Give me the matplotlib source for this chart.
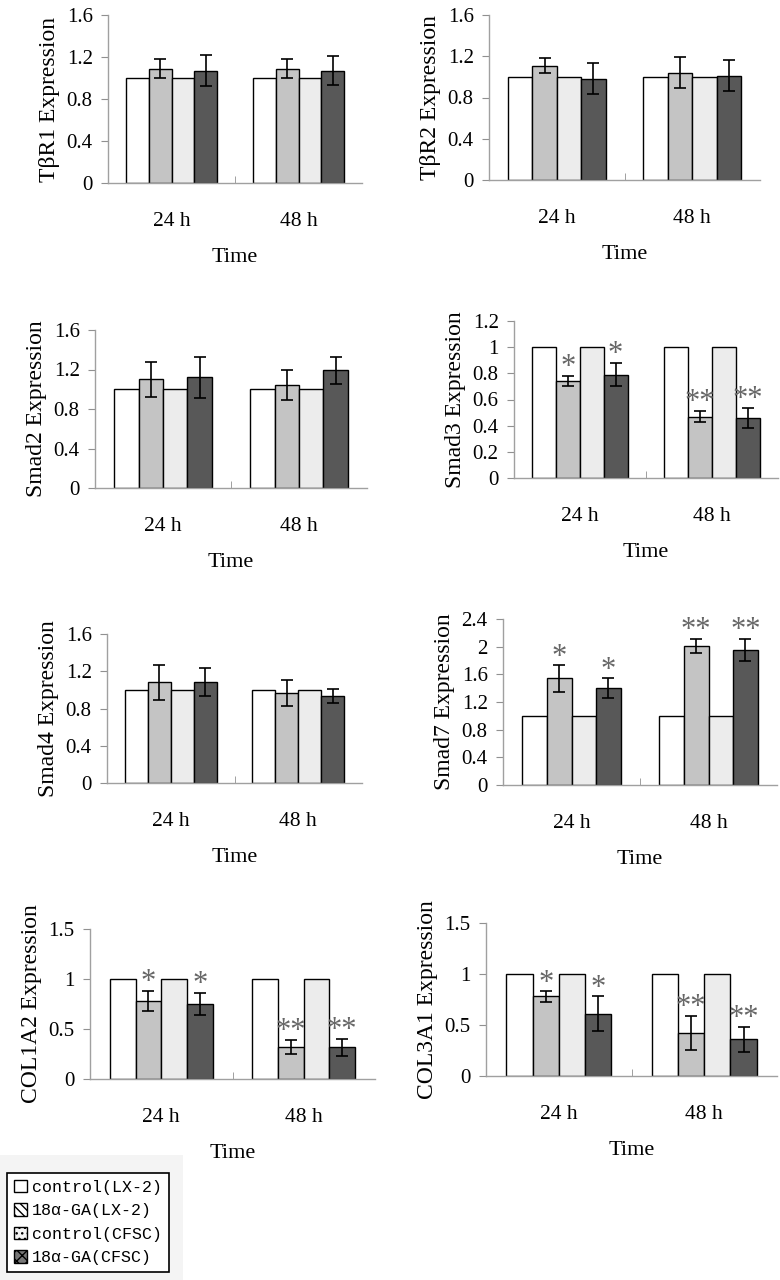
import matplotlib
matplotlib.use("Agg")
import matplotlib.pyplot as plt
from matplotlib.patches import Patch, Rectangle
import numpy as np

plt.rcParams['font.family'] = ['Liberation Serif', 'DejaVu Serif']

# ---- data ----
genes = ['TβR1', 'TβR2', 'Smad2', 'Smad3', 'Smad4', 'Smad7', 'COL1A2', 'COL3A1']
times = ['24 h', '48 h']
ymax = [1.6, 1.6, 1.6, 1.2, 1.6, 2.4, 1.5, 1.5]
ystep = [0.4, 0.4, 0.4, 0.2, 0.4, 0.4, 0.5, 0.5]

ctrl_lx_24 = [1.0, 1.0, 1.0, 1.0, 1.0, 1.0, 1.0, 1.0]
ctrl_lx_48 = [1.0, 1.0, 1.0, 1.0, 1.0, 1.0, 1.0, 1.0]
ga_lx_24 = [1.09, 1.11, 1.10, 0.74, 1.08, 1.54, 0.78, 0.78]
ga_lx_48 = [1.09, 1.04, 1.04, 0.47, 0.97, 2.01, 0.32, 0.42]
ga_lx_err_24 = [0.09, 0.07, 0.18, 0.04, 0.19, 0.19, 0.10, 0.05]
ga_lx_err_48 = [0.09, 0.15, 0.15, 0.045, 0.14, 0.10, 0.07, 0.165]
ctrl_cfsc_24 = [1.0, 1.0, 1.0, 1.0, 1.0, 1.0, 1.0, 1.0]
ctrl_cfsc_48 = [1.0, 1.0, 1.0, 1.0, 1.0, 1.0, 1.0, 1.0]
ga_cfsc_24 = [1.07, 0.98, 1.12, 0.79, 1.08, 1.40, 0.75, 0.61]
ga_cfsc_48 = [1.07, 1.01, 1.19, 0.46, 0.93, 1.95, 0.32, 0.36]
ga_cfsc_err_24 = [0.145, 0.15, 0.21, 0.09, 0.15, 0.14, 0.11, 0.17]
ga_cfsc_err_48 = [0.14, 0.15, 0.14, 0.075, 0.075, 0.16, 0.085, 0.12]
sig_24 = ['', '', '', '*', '', '*', '*', '*']
sig_48 = ['', '', '', '**', '', '**', '**', '**']

legend_labels = ['control(LX-2)', '18α-GA(LX-2)', 'control(CFSC)', '18α-GA(CFSC)']
colors = ['white', '#c4c4c4', '#ececec', '#585858']

# axes boxes in pixels: left, top, right, bottom
boxes = [(108, 15, 362, 183), (489, 15, 760, 180),
         (95, 330, 367, 488), (514, 321, 778, 478),
         (107, 634, 362, 783), (503, 619, 777, 785),
         (90, 929, 375, 1079), (486, 923, 777, 1076)]

W, H = 780, 1280
fig = plt.figure(figsize=(W / 100, H / 100), dpi=100)

# light gray patch behind the legend
fig.patches.append(Rectangle((0, 0), 183 / W, 125 / H, transform=fig.transFigure,
                             facecolor='#f4f4f4', edgecolor='none', zorder=0))

w = 0.18
x = np.arange(2)
for i, g in enumerate(genes):
    l, t, r, b = boxes[i]
    ax = fig.add_axes([l / W, 1 - b / H, (r - l) / W, (b - t) / H])
    series = [[ctrl_lx_24[i], ctrl_lx_48[i]],
              [ga_lx_24[i], ga_lx_48[i]],
              [ctrl_cfsc_24[i], ctrl_cfsc_48[i]],
              [ga_cfsc_24[i], ga_cfsc_48[i]]]
    errs = [None, [ga_lx_err_24[i], ga_lx_err_48[i]],
            None, [ga_cfsc_err_24[i], ga_cfsc_err_48[i]]]
    for k in range(4):
        xs = x + (k - 1.5) * w
        ax.bar(xs, series[k], width=w, color=colors[k], edgecolor='black',
               linewidth=1.0, zorder=2)
        if errs[k] is not None:
            ax.errorbar(xs, series[k], yerr=errs[k], fmt='none', ecolor='black',
                        elinewidth=1.2, capsize=4, capthick=1.2, zorder=3)
            for j, s in enumerate([sig_24[i], sig_48[i]]):
                if s:
                    ax.annotate(s, (xs[j], series[k][j] + errs[k][j]),
                                xytext=(0, 6), textcoords='offset points',
                                ha='center', va='center', fontsize=22,
                                color='#666666', zorder=4)

    ax.set_xlim(-0.5, 1.5)
    ax.set_ylim(0, ymax[i])
    ax.set_yticks(np.arange(0, ymax[i] + 1e-6, ystep[i]))
    ax.yaxis.set_major_formatter(plt.FuncFormatter(lambda v, _: f'{v:g}'))
    ax.set_xticks(x)
    ax.set_xticklabels(times)
    ax.set_xticks([0.5], minor=True)
    ax.tick_params(axis='x', which='major', length=0, pad=21, labelsize=15.5)
    ax.tick_params(axis='x', which='minor', direction='in', length=5,
                   color='#909090')
    ax.tick_params(axis='y', direction='out', length=5, color='#909090',
                   pad=6, labelsize=15)
    for side in ['top', 'right']:
        ax.spines[side].set_visible(False)
    for side in ['left', 'bottom']:
        ax.spines[side].set_color('#a0a0a0')
        ax.spines[side].set_linewidth(1.0)
    ax.set_ylabel(f'{g} Expression', fontsize=17, labelpad=5)
    ax.set_xlabel('Time', fontsize=16, labelpad=12)

handles = [Patch(facecolor='white', edgecolor='black'),
           Patch(facecolor='white', edgecolor='black', hatch='\\\\\\\\'),
           Patch(facecolor='#f4f4f4', edgecolor='black', hatch='...'),
           Patch(facecolor='#777777', edgecolor='black', hatch='xxx')]
leg = fig.legend(handles, legend_labels, loc='lower left',
                 bbox_to_anchor=(7 / W, 8 / H), borderaxespad=0,
                 prop={'family': 'Liberation Mono', 'size': 12},
                 handlelength=0.8, handleheight=0.8, handletextpad=0.3,
                 labelspacing=0.5, borderpad=0.4, fancybox=False,
                 edgecolor='black', framealpha=1)
leg.get_frame().set_linewidth(1.2)

fig.savefig('out.png', dpi=100)
